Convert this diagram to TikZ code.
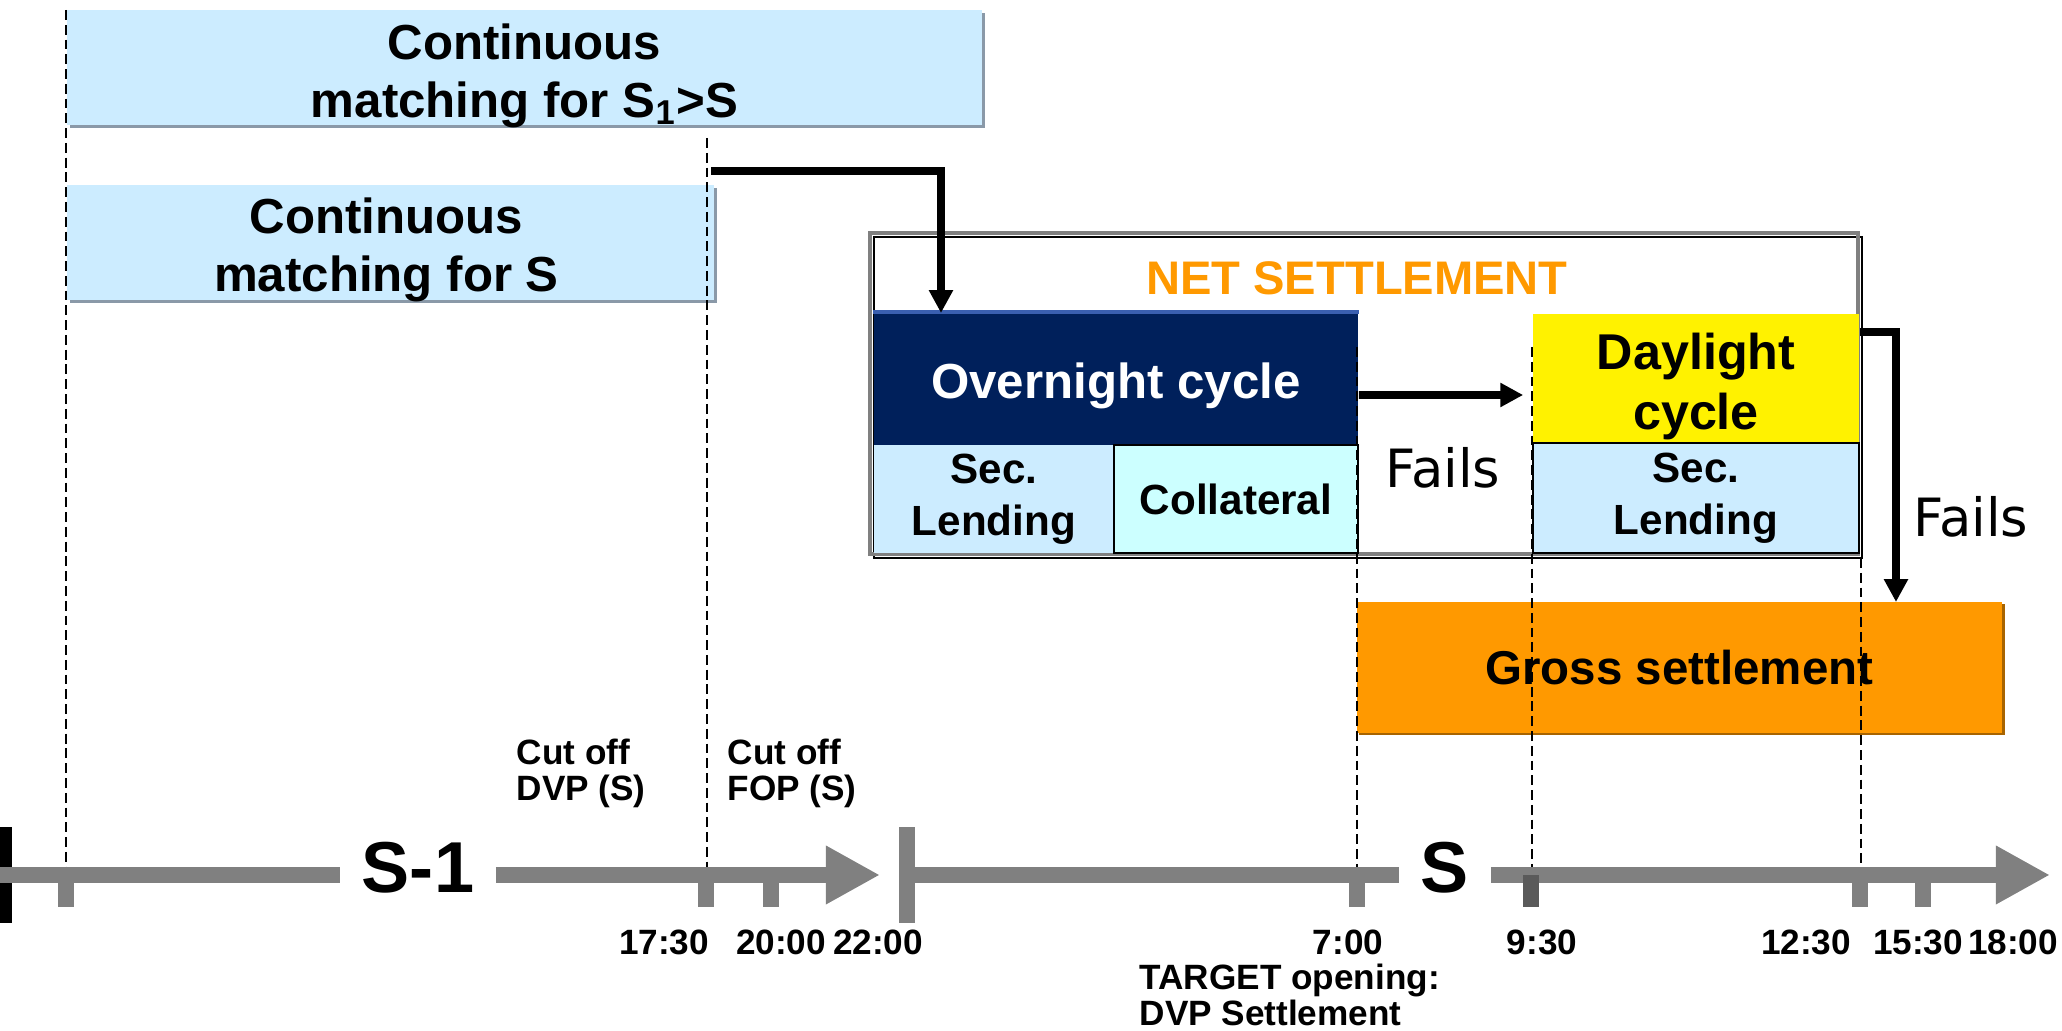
\documentclass[tikz,border=0pt]{standalone}
\usepackage{fontspec}
\setmainfont{Liberation Sans}
\newfontfamily\verd{DejaVu Sans}
\usetikzlibrary{arrows.meta,shadows}
\definecolor{paleblue}{HTML}{CCECFF}
\definecolor{shadowblue}{HTML}{8A99A8}
\definecolor{palecyan}{HTML}{CCFFFF}
\definecolor{navy}{HTML}{00205B}
\definecolor{lineblue}{HTML}{3A5FB0}
\definecolor{netorange}{HTML}{FF9900}
\definecolor{grossbrown}{HTML}{A86400}
\definecolor{axisgray}{HTML}{808080}
\definecolor{tickdark}{HTML}{5A5A5A}
\begin{document}
\begin{tikzpicture}[x=0.01cm,y=-0.01cm,
  match/.style={fill=paleblue,inner sep=0pt,
    drop shadow={shadow xshift=0.9pt,shadow yshift=-0.9pt,fill=shadowblue,opacity=1}},
  matchtext/.style={align=center,inner sep=0pt,font=\bfseries\fontsize{14}{16.5}\selectfont},
  cell/.style={inner sep=0pt,align=center,font=\bfseries\fontsize{12}{14.8}\selectfont},
  flow/.style={line width=2.2pt,-{Triangle[width=6.5pt,length=6.5pt]}},
  bar/.style={draw=axisgray,line width=4.55pt},
  guide/.style={line width=0.5pt,dash pattern=on 2.8pt off 1.4pt},
  time/.style={anchor=base,font=\bfseries\fontsize{10}{11}\selectfont},
  note/.style={anchor=north west,align=left,inner sep=0pt,font=\bfseries\fontsize{10}{10.3}\selectfont},
  fails/.style={anchor=base,font=\verd\fontsize{15}{18}\selectfont},
  dayname/.style={anchor=base,inner xsep=6pt,font=\bfseries\fontsize{20.5}{24}\selectfont}]
  \useasboundingbox (0,0) rectangle (2062,1031);

  % matching windows
  \node[match,minimum width=9.15cm,minimum height=1.15cm] (mS1) at (524.5,67.5) {};
  \node[matchtext] (mS1t) at ([yshift=-0.08cm]mS1) {Continuous\\matching for S\textsubscript{1}>S};
  \node[match,minimum width=6.47cm,minimum height=1.15cm] (mS) at (390.5,242.5) {};
  \node[matchtext] (mSt) at ([yshift=-0.07cm,xshift=-0.04cm]mS) {Continuous\\matching for S};

  % net settlement
  \draw[black,line width=0.8pt] (874,237) rectangle (1862,558);
  \draw[gray,line width=1pt] (870,233) rectangle (1858,554);
  \node[anchor=base,text=netorange,font=\bfseries\fontsize{13.4}{16}\selectfont] (net) at (1357,295) {NET SETTLEMENT};
  \node[fill=navy,inner sep=0pt,minimum width=4.84cm,minimum height=1.32cm] (ovn) at (1116,379) {};
  \node[cell,text=white,font=\bfseries\fontsize{14}{17}\selectfont] (ovnt) at ([yshift=-0.07cm]ovn) {Overnight cycle};
  \draw[lineblue,line width=1pt] (ovn.north west) -- (ovn.north east);
  \node[cell,fill=paleblue,minimum width=2.4cm,minimum height=1.08cm] (lendN) at (994,499) {Sec.\\Lending};
  \node[cell,fill=palecyan,draw=black,line width=0.5pt,minimum width=2.44cm,minimum height=1.08cm] (coll) at (1236,499) {Collateral};
  \node[fill=yellow,inner sep=0pt,minimum width=3.26cm,minimum height=1.29cm] (day) at (1696,378.5) {};
  \node[cell,font=\bfseries\fontsize{14.3}{16.8}\selectfont] (dayt) at ([yshift=-0.08cm]day) {Daylight\\cycle};
  \node[cell,fill=paleblue,draw=black,line width=0.5pt,minimum width=3.26cm,minimum height=1.10cm] (lendD) at (1696,498) {Sec.\\Lending};
  \node[fails] (failN) at (1443,488) {Fails};

  % gross settlement
  \node[cell,fill=netorange,minimum width=6.45cm,minimum height=1.31cm,
    drop shadow={shadow xshift=0.7pt,shadow yshift=-0.7pt,fill=grossbrown,opacity=1},
    font=\bfseries\fontsize{13.5}{16}\selectfont] (gross) at (1679.5,667.5) {Gross settlement};
  \node[fails] (failG) at (1971,537) {Fails};

  % flows
  \coordinate (cutS) at (711,171);
  \coordinate (ovnIn) at (941,313);
  \draw[flow] (cutS) -| (ovnIn);
  \draw[flow,shorten >=0.09cm] ([yshift=-0.16cm]ovn.east) -- ([yshift=-0.165cm]day.west);
  \coordinate (grossIn) at (1896,602);
  \draw[flow] ([yshift=0.465cm]day.east) -| (grossIn);

  % guides
  \draw[guide] (66,10) -- (66,870);
  \draw[guide] (707,138) -- (707,870);
  \draw[guide] (1357,347) -- (1357,892);
  \draw[guide] (1532,347) -- (1532,892);
  \draw[guide] (1861,558) -- (1861,892);

  % time line
  \fill (0,827) rectangle (12,923);
  \fill[axisgray] (899,827) rectangle (915,923);
  \coordinate (t0) at (0,875);
  \node[dayname] (sm1) at (418,893) {S-1};
  \draw[bar] (t0) -- (sm1.west |- t0);
  \coordinate (t1) at (880,875);
  \draw[bar,-{Triangle[width=15.6pt,length=15.4pt]}] (sm1.east |- t0) -- (t1);
  \coordinate (t2) at (907,875);
  \node[dayname] (sd) at (1445,893) {S};
  \draw[bar] (t2) -- (sd.west |- t2);
  \coordinate (t3) at (2050,875);
  \draw[bar,-{Triangle[width=15.6pt,length=15.4pt]}] (sd.east |- t2) -- (t3);
  \foreach \x in {66,706,771,1357,1860,1923}
    \fill[axisgray] (\x-8,875) rectangle (\x+8,907);
  \fill[tickdark] (1523,875) rectangle (1539,907);

  \foreach \x/\t in {664/17:30,781/20:00,878/22:00,1348/7:00,1542/9:30,1806/12:30,1918/15:30,2013/18:00}
    \node[time] (lab\x) at (\x,955) {\t};

  \node[note] (cutDVP) at (516,738) {Cut off\\DVP (S)};
  \node[note] (cutFOP) at (727,738) {Cut off\\FOP (S)};
  \node[note] (target) at (1139,963) {TARGET opening:\\DVP Settlement};
\end{tikzpicture}
\end{document}
